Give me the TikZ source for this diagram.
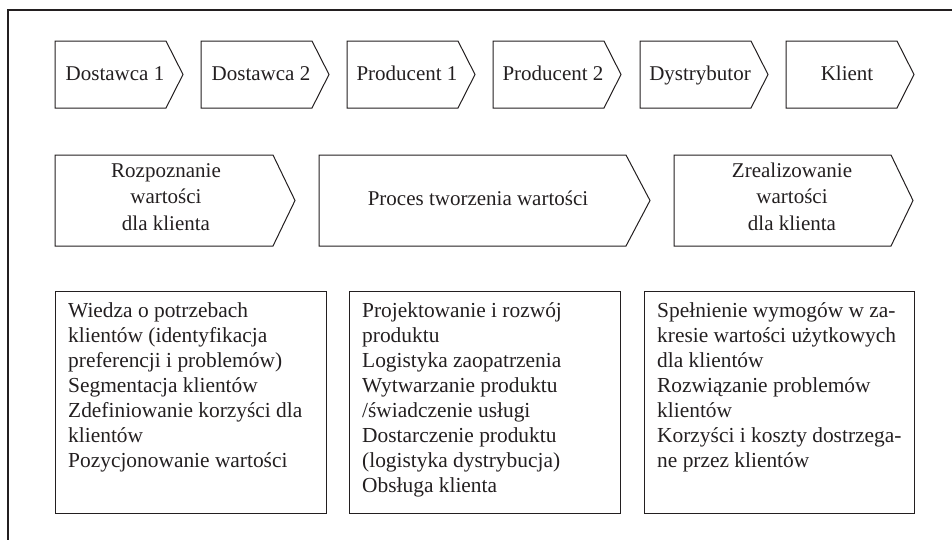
\documentclass[tikz,border=0pt]{standalone}
\usepackage{fontspec}
\setmainfont{Liberation Serif}
\definecolor{ink}{HTML}{231F20}
\newcommand\chevpath[6]{% name, left, top, flat, height, tip
  \draw[shapeline] (#2,#3) -- ++(#4,0) -- ++(#6,#5/2) -- ++(-#6,#5/2) -- ++(-#4,0) -- cycle;
  \coordinate (#1) at (#2,#3);}
\begin{document}
\begin{tikzpicture}[x=1pt,y=-1pt,
  shapeline/.style={draw=ink,line width=1pt,line join=miter},
  lbl/.style={inner sep=0pt,text=ink,font=\fontsize{21}{25}\selectfont},
  mlbl/.style={lbl,align=center,font=\fontsize{21}{26.5}\selectfont},
  boxtxt/.style={lbl,align=left,anchor=north west,font=\fontsize{21.4}{25}\selectfont},
  colbox/.style={draw=ink,line width=1pt}]
\useasboundingbox (0,0) rectangle (952,539);
% outer frame (partially visible)
\draw[draw=ink,line width=1.1pt] (8,545) -- (8,10) -- (960,10);
% row 1
\chevpath{c1}{55}{41}{111}{67}{17}
\chevpath{c2}{201}{41}{111}{67}{17}
\chevpath{c3}{347}{41}{111}{67}{17}
\chevpath{c4}{493}{41}{111}{67}{17}
\chevpath{c5}{640}{41}{111}{67}{17}
\chevpath{c6}{786}{41}{111}{67}{17}
\node[lbl,anchor=base] (t1) at (115,80) {Dostawca 1};
\node[lbl,anchor=base] (t2) at (261,80) {Dostawca 2};
\node[lbl,anchor=base] (t3) at (407,80) {Producent 1};
\node[lbl,anchor=base] (t4) at (553,80) {Producent 2};
\node[lbl,anchor=base] (t5) at (700,80) {Dystrybutor};
\node[lbl,anchor=base] (t6) at (847,80) {Klient};
% row 2
\chevpath{d1}{55}{155}{218}{91}{22}
\chevpath{d2}{319}{155}{307}{91}{24}
\chevpath{d3}{674}{155}{217}{91}{22}
\node[mlbl,anchor=north] (u1) at (166,160) {\rule{0pt}{17pt}Rozpoznanie\\wartości\\dla klienta};
\node[lbl,anchor=base] (u2) at (478,205) {Proces tworzenia wartości};
\node[mlbl,anchor=north] (u3) at (792,160) {\rule{0pt}{17pt}Zrealizowanie\\wartości\\dla klienta};
% row 3
\draw[colbox] (55,291) rectangle (326,513);
\draw[colbox] (349,291) rectangle (620,513);
\draw[colbox] (644,291) rectangle (914,513);
\node[boxtxt] (b1) at (68,300) {\rule{0pt}{17pt}Wiedza o potrzebach\\klientów (identyfikacja\\preferencji i problemów)\\Segmentacja klientów\\Zdefiniowanie korzyści dla\\klientów\\Pozycjonowanie wartości};
\node[boxtxt] (b2) at (362,300) {\rule{0pt}{17pt}Projektowanie i rozwój\\produktu\\Logistyka zaopatrzenia\\Wytwarzanie produktu\\/świadczenie usługi\\Dostarczenie produktu\\(logistyka dystrybucja)\\Obsługa klienta};
\node[boxtxt] (b3) at (657,300) {\rule{0pt}{17pt}Spełnienie wymogów w za-\\kresie wartości użytkowych\\dla klientów\\Rozwiązanie problemów\\klientów\\Korzyści i koszty dostrzega-\\ne przez klientów};
\end{tikzpicture}
\end{document}
